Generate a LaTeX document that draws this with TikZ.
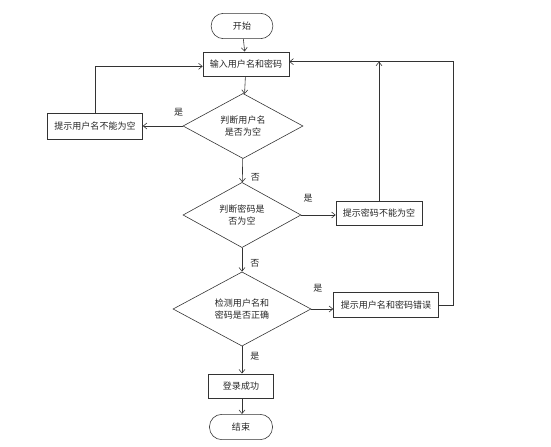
\documentclass[tikz,border=0pt]{standalone}
\usepackage{fontspec}
\newfontfamily\cjk{Noto Sans CJK SC}
\usetikzlibrary{shapes.geometric,arrows.meta}
\tikzset{
    every node/.style={font=\cjk\fontsize{7.7}{10}\selectfont,text=black!85},
    terminal/.style={draw,rounded corners=0.37cm,minimum width=1.85cm,minimum height=0.76cm,inner sep=0pt},
    stepbox/.style={draw,minimum height=0.73cm,inner sep=0pt},
    decide/.style={draw,diamond,inner sep=0pt,align=center},
    flow/.style={-{Straight Barb[length=1.1mm,width=1.8mm]}},
    lbl/.style={inner sep=1pt}
}
\begin{document}
\begin{tikzpicture}[x=0.03cm,y=-0.03cm,line width=0.5pt,draw=black!80]
    \useasboundingbox (0,0) rectangle (551,447);
    %% nodes
    \node[terminal] (start) at (242,26) {开始};
    \node[stepbox,minimum width=2.58cm] (input) at (246,64) {输入用户名和密码};
    \node[decide,minimum width=3.6cm,minimum height=1.89cm] (chkuser) at (243,126) {判断用户名\\是否为空};
    \node[stepbox,minimum width=2.85cm,minimum height=0.78cm] (warnuser) at (95,126) {提示用户名不能为空};
    \node[decide,minimum width=3.54cm,minimum height=1.92cm] (chkpwd) at (242,215) {判断密码是\\否为空};
    \node[stepbox,minimum width=2.58cm] (warnpwd) at (379,213) {提示密码不能为空};
    \node[decide,minimum width=4.14cm,minimum height=1.92cm] (chkboth) at (242,309) {检测用户名和\\密码是否正确};
    \node[stepbox,minimum width=3.15cm,minimum height=0.75cm] (warnerr) at (386,305) {提示用户名和密码错误};
    \node[stepbox,minimum width=1.95cm] (login) at (241,386) {登录成功};
    \node[terminal,minimum width=1.89cm] (stop) at (241,427) {结束};
    %% main line
    \draw[flow] (start) -- (input);
    \draw[flow] (input) -- (chkuser);
    \draw[flow] (chkuser) -- node[lbl,anchor=west,xshift=6pt,pos=0.8] {否} (chkpwd);
    \draw[flow] (chkpwd) -- node[lbl,anchor=west,xshift=6pt,pos=0.65] {否} (chkboth);
    \draw[flow] (chkboth.south) -- node[lbl,anchor=west,xshift=6pt,pos=0.35] {是} (login.north -| chkboth.south);
    \draw[flow] (login.south -| chkboth.south) -- (stop.north -| chkboth.south);
    %% branches
    \draw[flow] (chkuser.west) -- node[lbl,above=7pt,pos=0.1] {是} (warnuser.east);
    \draw[flow] (chkpwd.east) -- node[lbl,above=10pt,pos=0.2] {是} (chkpwd.east -| warnpwd.west);
    \draw[flow] (chkboth.east) -- node[lbl,above=13pt,pos=0.3] {是} (chkboth.east -| warnerr.west);
    %% back to input
    \coordinate (rim) at (453,305);
    \coordinate (inleft) at ([yshift=-2pt]input.west);
    \coordinate (inright) at ([yshift=2pt]input.east);
    \draw[flow] (warnuser.north) |- (inleft);
    \draw[flow] (warnerr.east) -- (rim) |- (inright);
    \draw[flow] (warnpwd.north) -- (warnpwd.north |- inright);
\end{tikzpicture}
\end{document}
